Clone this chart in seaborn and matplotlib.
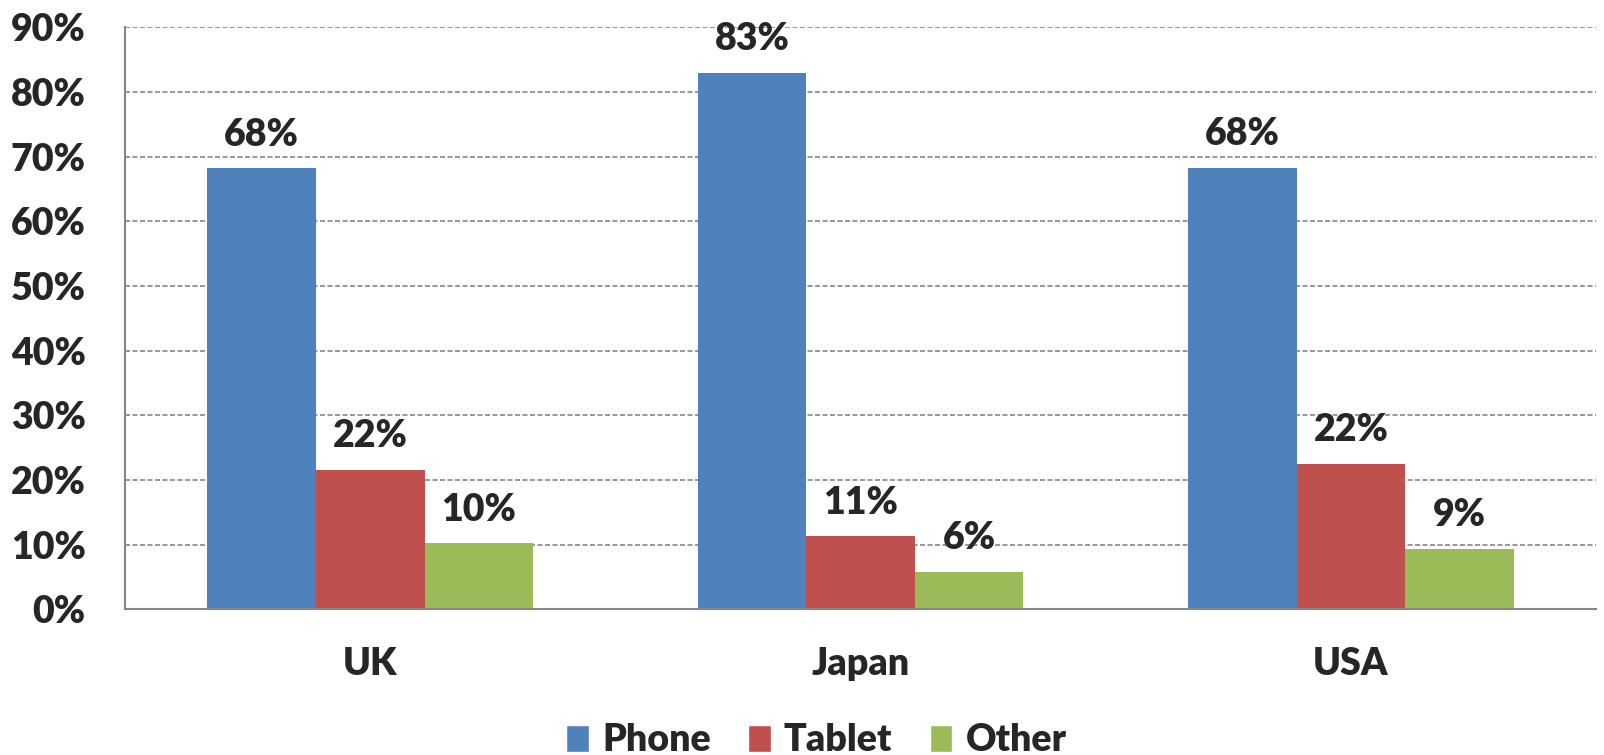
import pandas as pd
import matplotlib
matplotlib.use("Agg")
import matplotlib.pyplot as plt
from matplotlib.patches import Patch
from matplotlib.ticker import PercentFormatter, FixedLocator
import seaborn as sns

# Chart data
countries = ["UK", "Japan", "USA"]
devices = ["Phone", "Tablet", "Other"]
phone = [0.682, 0.829, 0.683]
tablet = [0.216, 0.113, 0.225]
other = [0.102, 0.058, 0.093]
colors = ["#4F81BD", "#C0504D", "#9BBB59"]

df = pd.DataFrame({
    "country": countries * 3,
    "device": [d for d in devices for _ in countries],
    "share": phone + tablet + other,
})

sns.set_style("white")
plt.rcParams["font.family"] = ["Lato", "DejaVu Sans"]
FS = 27
FW = "heavy"

fig = plt.figure(figsize=(16.04, 7.55), dpi=100)
ax = fig.add_axes([0.078, 0.193, 0.917, 0.771])

sns.barplot(data=df, x="country", y="share", hue="device", order=countries,
            hue_order=devices, palette=colors, saturation=1, width=0.664,
            errorbar=None, legend=False, linewidth=0, ax=ax)

for cont, vals in zip(ax.containers, [phone, tablet, other]):
    ax.bar_label(cont, labels=[f"{round(v * 100)}%" for v in vals],
                 padding=12, fontsize=FS, fontweight=FW)

ax.set_ylim(0, 0.9)
ax.set_xlim(-0.5, 2.5)
ax.yaxis.set_major_formatter(PercentFormatter(1.0, decimals=0))
ax.set_yticks([i / 10 for i in range(10)])
ax.set_xlabel("")
ax.set_ylabel("")

gray = "#868686"
ax.yaxis.grid(True, linestyle=(0, (3, 1.5)), color=gray, linewidth=1.2)
ax.set_axisbelow(True)
for side in ["top", "right"]:
    ax.spines[side].set_visible(False)
for side in ["left", "bottom"]:
    ax.spines[side].set_color(gray)
    ax.spines[side].set_linewidth(1.5)

ax.tick_params(axis="y", direction="out", length=9.5, width=1.2, color=gray,
               pad=19, labelsize=FS)
ax.tick_params(axis="x", which="major", length=0, pad=27, labelsize=FS)
ax.xaxis.set_minor_locator(FixedLocator([-0.5, 0.5, 1.5, 2.5]))
ax.tick_params(axis="x", which="minor", direction="out", length=9.5,
               width=1.2, color=gray)
for lbl in ax.get_xticklabels() + ax.get_yticklabels():
    lbl.set_fontweight(FW)

handles = [Patch(facecolor=c, label=d) for c, d in zip(colors, devices)]
fig.legend(handles=handles, loc="lower center", bbox_to_anchor=(0.509, -0.048),
           ncol=3, frameon=False, handlelength=0.6, handleheight=0.75,
           handletextpad=0.35, columnspacing=1.0,
           prop={"weight": FW, "size": FS})

fig.savefig("out.png", dpi=100)
